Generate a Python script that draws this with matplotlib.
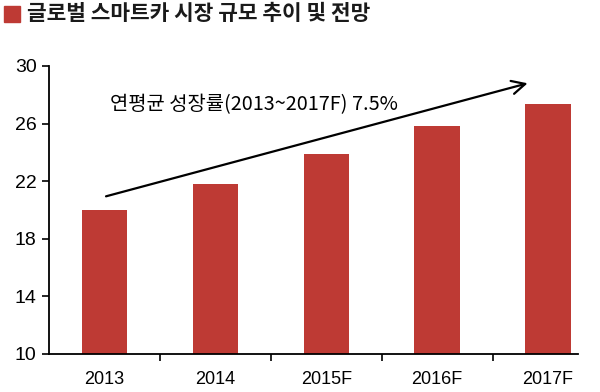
import matplotlib.pyplot as plt
from matplotlib.patches import Rectangle
import numpy as np

plt.rcParams['font.family'] = ['Liberation Sans', 'Noto Sans CJK KR', 'DejaVu Sans']

years = ['2013', '2014', '2015F', '2016F', '2017F']
market_size = [20.0, 21.8, 23.9, 25.8, 27.35]
yticks = [10, 14, 18, 22, 26, 30]

title = '글로벌 스마트카 시장 규모 추이 및 전망'
cagr_label = '연평균 성장률(2013~2017F) 7.5%'
bar_color = '#BE3A34'

fig = plt.figure(figsize=(6, 3.92), dpi=100)
ax = fig.add_axes([49 / 600, 1 - 354 / 392, (578 - 49) / 600, (354 - 66) / 392])

x = np.arange(len(years))
ax.bar(x, market_size, width=0.41, color=bar_color, bottom=0)

ax.set_ylim(10, 30)
ax.set_xlim(-0.5, 4.27)
ax.set_yticks(yticks)
ax.set_xticks(x)
ax.set_xticklabels(years)
ax.set_xticks(x[:-1] + 0.5, minor=True)
ax.tick_params(axis='x', which='major', length=0, pad=12, labelsize=13)
ax.tick_params(axis='x', which='minor', length=5, width=1.2, direction='out')
ax.tick_params(axis='y', length=5, width=1.2, direction='out', labelsize=14, pad=4)
for side in ['top', 'right']:
    ax.spines[side].set_visible(False)
for side in ['left', 'bottom']:
    ax.spines[side].set_linewidth(1.3)

# growth arrow and label
ax.annotate('', xy=(3.84, 28.85), xytext=(-0.01, 20.9),
            arrowprops=dict(arrowstyle='->', lw=1.6, color='black', mutation_scale=24))
ax.text(0.05, 27.35, cagr_label, fontsize=14.3, va='center', ha='left',
        family=['Noto Sans CJK KR', 'DejaVu Sans'])

# title with red square marker
fig.patches.append(Rectangle((4 / 600, 1 - 22 / 392), 16 / 600, 16 / 392,
                             transform=fig.transFigure, color=bar_color))
fig.text(27 / 600, 1 - 14 / 392, title, fontsize=15.4, fontweight='heavy', va='center',
         ha='left', color='#1a1a1a', family=['Noto Sans CJK KR', 'DejaVu Sans'])

fig.savefig('out.png', dpi=100)
